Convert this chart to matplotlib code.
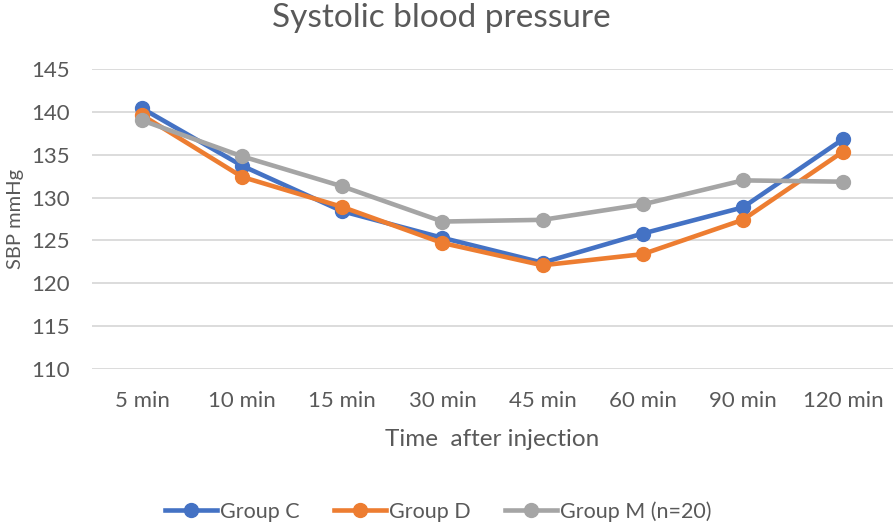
import matplotlib.pyplot as plt

# Data
times = ['5 min', '10 min', '15 min', '30 min', '45 min', '60 min', '90 min', '120 min']
group_c = [140.4, 133.7, 128.4, 125.3, 122.4, 125.8, 128.85, 136.8]
group_d = [139.6, 132.4, 128.9, 124.7, 122.1, 123.4, 127.4, 135.35]
group_m = [139.0, 134.8, 131.3, 127.2, 127.4, 129.2, 132.0, 131.85]

plt.rcParams['font.family'] = ['Lato', 'DejaVu Sans']
text_color = '#595959'

fig = plt.figure(figsize=(8.95, 5.22), dpi=100)
ax = fig.add_axes([0.1028, 0.293, 0.895, 0.575])

x = range(len(times))
ax.plot(x, group_c, color='#4472C4', lw=3.3, marker='o', ms=10, label='Group C')
ax.plot(x, group_d, color='#ED7D31', lw=3.3, marker='o', ms=10, label='Group D')
ax.plot(x, group_m, color='#A5A5A5', lw=3.3, marker='o', ms=10, label='Group M (n=20)')

ax.set_xlim(-0.5, len(times) - 0.5)
ax.set_ylim(110, 145)
ax.set_yticks(range(110, 146, 5))
ax.set_xticks(list(x))
ax.set_xticklabels(times)
ax.tick_params(axis='both', length=0, labelsize=16, colors=text_color)
ax.tick_params(axis='y', pad=16)
ax.tick_params(axis='x', pad=16)
ax.grid(axis='y', color='#D9D9D9', lw=1.3)
ax.set_axisbelow(True)
for s in ax.spines.values():
    s.set_visible(False)

ax.set_xlabel('Time  after injection', fontsize=17.5, color=text_color, labelpad=13)
ax.set_ylabel('SBP mmHg', fontsize=14.5, color=text_color, labelpad=5)
fig.text(0.493, 0.965, 'Systolic blood pressure', ha='center', va='center',
         fontsize=24, color=text_color)

fig.legend(loc='center', bbox_to_anchor=(0.49, 0.02), ncol=3, frameon=False,
           fontsize=15.5, labelcolor=text_color, handlelength=2.4, handletextpad=0.15,
           columnspacing=1.6)

fig.savefig('out.png', dpi=100)
